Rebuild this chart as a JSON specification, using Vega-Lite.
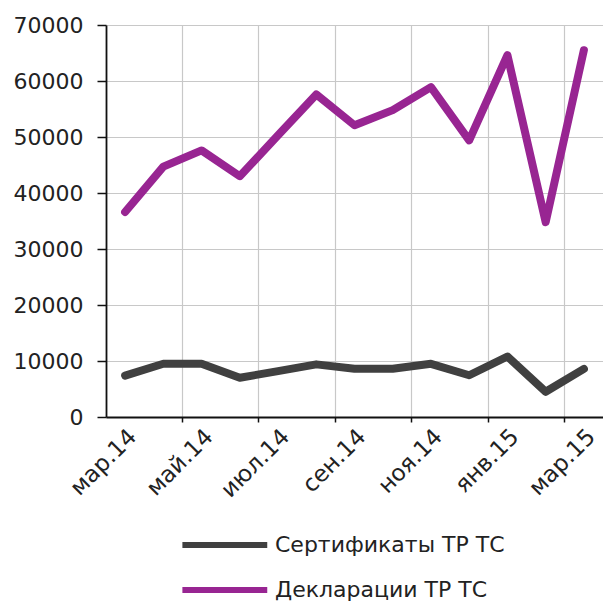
{
  "$schema": "https://vega.github.io/schema/vega-lite/v6.json",
  "autosize": "none",
  "width": 497,
  "height": 392,
  "padding": {"top": 25, "left": 106, "right": 0, "bottom": 187},
  "background": "white",
  "config": {
    "view": {"stroke": null},
    "font": "DejaVu Sans"
  },
  "data": {
    "values": [
      {"month": "мар.14", "series": "Сертификаты ТР ТС", "value": 7400},
      {"month": "апр.14", "series": "Сертификаты ТР ТС", "value": 9500},
      {"month": "май.14", "series": "Сертификаты ТР ТС", "value": 9500},
      {"month": "июн.14", "series": "Сертификаты ТР ТС", "value": 7000},
      {"month": "июл.14", "series": "Сертификаты ТР ТС", "value": 8200},
      {"month": "авг.14", "series": "Сертификаты ТР ТС", "value": 9400},
      {"month": "сен.14", "series": "Сертификаты ТР ТС", "value": 8600},
      {"month": "окт.14", "series": "Сертификаты ТР ТС", "value": 8600},
      {"month": "ноя.14", "series": "Сертификаты ТР ТС", "value": 9500},
      {"month": "дек.14", "series": "Сертификаты ТР ТС", "value": 7450},
      {"month": "янв.15", "series": "Сертификаты ТР ТС", "value": 10800},
      {"month": "фев.15", "series": "Сертификаты ТР ТС", "value": 4500},
      {"month": "мар.15", "series": "Сертификаты ТР ТС", "value": 8600},
      {"month": "мар.14", "series": "Декларации ТР ТС", "value": 36600},
      {"month": "апр.14", "series": "Декларации ТР ТС", "value": 44700},
      {"month": "май.14", "series": "Декларации ТР ТС", "value": 47600},
      {"month": "июн.14", "series": "Декларации ТР ТС", "value": 43000},
      {"month": "июл.14", "series": "Декларации ТР ТС", "value": 50300},
      {"month": "авг.14", "series": "Декларации ТР ТС", "value": 57600},
      {"month": "сен.14", "series": "Декларации ТР ТС", "value": 52100},
      {"month": "окт.14", "series": "Декларации ТР ТС", "value": 54800},
      {"month": "ноя.14", "series": "Декларации ТР ТС", "value": 58900},
      {"month": "дек.14", "series": "Декларации ТР ТС", "value": 49400},
      {"month": "янв.15", "series": "Декларации ТР ТС", "value": 64600},
      {"month": "фев.15", "series": "Декларации ТР ТС", "value": 34800},
      {"month": "мар.15", "series": "Декларации ТР ТС", "value": 65500}
    ]
  },
  "resolve": {"axis": {"x": "independent"}},
  "layer": [
    {
      "mark": {"type": "line", "strokeWidth": 8, "strokeCap": "round", "strokeJoin": "round"},
      "encoding": {
        "x": {
          "field": "month",
          "type": "ordinal",
          "sort": ["мар.14","апр.14","май.14","июн.14","июл.14","авг.14","сен.14","окт.14","ноя.14","дек.14","янв.15","фев.15","мар.15"],
          "scale": {"type": "band", "paddingInner": 0, "paddingOuter": 0},
          "axis": {
            "title": null,
            "orient": "bottom",
            "values": ["мар.14","май.14","июл.14","сен.14","ноя.14","янв.15","мар.15"],
            "bandPosition": 0,
            "labels": false,
            "grid": true,
            "gridColor": "#c8c8c8",
            "gridWidth": 1.2,
            "domainColor": "#111",
            "domainWidth": 1.8,
            "tickColor": "#111",
            "tickWidth": 1.5,
            "tickSize": 5
          }
        },
        "y": {
          "field": "value",
          "type": "quantitative",
          "scale": {"domain": [0, 70000], "nice": false},
          "axis": {
            "title": null,
            "values": [0, 10000, 20000, 30000, 40000, 50000, 60000, 70000],
            "format": "d",
            "grid": true,
            "gridColor": "#c8c8c8",
            "gridWidth": 1.2,
            "domainColor": "#111",
            "domainWidth": 1.8,
            "tickColor": "#111",
            "tickWidth": 1.5,
            "tickSize": 9,
            "labelFont": "DejaVu Sans",
            "labelFontSize": 22,
            "labelColor": "#222",
            "labelPadding": 14
          }
        },
        "color": {
          "field": "series",
          "type": "nominal",
          "sort": ["Сертификаты ТР ТС", "Декларации ТР ТС"],
          "scale": {"domain": ["Сертификаты ТР ТС", "Декларации ТР ТС"], "range": ["#404040", "#982592"]},
          "legend": {
            "title": null,
            "orient": "none",
            "legendX": 73,
            "legendY": 506,
            "padding": 0,
            "direction": "vertical",
            "symbolType": "M-1,0H7",
            "symbolSize": 450,
            "symbolStrokeWidth": 6,
            "labelFont": "DejaVu Sans",
            "labelFontSize": 22,
            "labelColor": "#222",
            "labelLimit": 400,
            "labelOffset": 68,
            "rowPadding": 19
          }
        }
      }
    },
    {
      "mark": {"type": "point", "opacity": 0},
      "encoding": {
        "x": {
          "field": "month",
          "type": "ordinal",
          "sort": ["мар.14","апр.14","май.14","июн.14","июл.14","авг.14","сен.14","окт.14","ноя.14","дек.14","янв.15","фев.15","мар.15"],
          "axis": {
            "title": null,
            "orient": "bottom",
            "labelExpr": "indexof(['апр.14','июн.14','авг.14','окт.14','дек.14','фев.15'], datum.value) >= 0 ? '' : datum.label",
            "grid": false,
            "domain": false,
            "ticks": false,
            "labelAngle": -45,
            "labelAlign": "right",
            "labelBaseline": "top",
            "labelOverlap": false,
            "labelBound": false,
            "labelFont": "DejaVu Sans",
            "labelFontSize": 23,
            "labelColor": "#222",
            "labelPadding": 8
          }
        },
        "y": {"field": "value", "type": "quantitative"}
      }
    }
  ]
}
